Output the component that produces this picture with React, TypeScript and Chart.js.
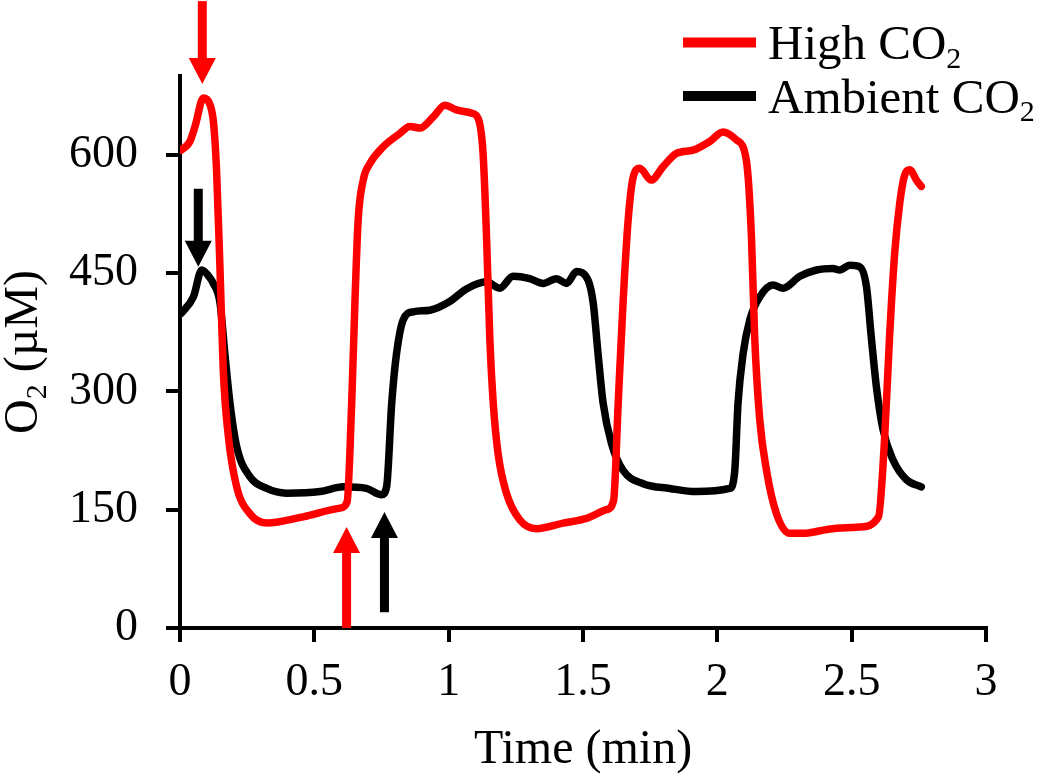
import { useEffect, useRef } from "react";
import { Chart, registerables } from "chart.js";

Chart.register(...registerables);

// O2 traces (time in min, O2 in µM)
const highTime = [
  0.005, 0.037, 0.056, 0.087, 0.11, 0.125, 0.136, 0.149, 0.161, 0.18, 0.211, 0.26, 0.323, 0.458, 0.595,
  0.622, 0.639, 0.651, 0.663, 0.682, 0.707, 0.756, 0.818, 0.856, 0.893, 0.942, 0.986, 1.029, 1.085, 1.11,
  1.128, 1.141, 1.153, 1.166, 1.184, 1.215, 1.265, 1.327, 1.426, 1.513, 1.587, 1.614, 1.631, 1.649, 1.668,
  1.687, 1.711, 1.754, 1.798, 1.848, 1.91, 1.972, 2.021, 2.071, 2.108, 2.127, 2.139, 2.158, 2.183, 2.22,
  2.269, 2.319, 2.43, 2.53, 2.6, 2.623, 2.641, 2.66, 2.679, 2.698, 2.716, 2.741, 2.759,
];
const highO2 = [
  606, 617, 636, 672, 665, 640, 581, 454, 327, 243, 179, 145, 133, 141, 152,
  160, 285, 412, 517, 568, 589, 610, 627, 636, 634, 648, 663, 657, 653, 646,
  602, 496, 369, 285, 221, 171, 137, 126, 133, 139, 150, 162, 285, 412, 517,
  572, 583, 568, 585, 602, 606, 617, 629, 619, 593, 496, 369, 264, 200, 145,
  120, 120, 126, 128, 141, 243, 369, 475, 539, 575, 581, 568, 560,
];
const ambientTime = [
  0.005, 0.05, 0.081, 0.105, 0.124, 0.149, 0.167, 0.186, 0.211, 0.26, 0.323, 0.397, 0.521, 0.608, 0.694,
  0.75, 0.769, 0.788, 0.806, 0.831, 0.868, 0.93, 1.004, 1.066, 1.141, 1.19, 1.24, 1.302, 1.352, 1.401,
  1.439, 1.476, 1.519, 1.538, 1.556, 1.575, 1.606, 1.649, 1.724, 1.823, 1.922, 2.046, 2.065, 2.077, 2.096,
  2.121, 2.158, 2.207, 2.245, 2.307, 2.369, 2.43, 2.455, 2.493, 2.53, 2.555, 2.573, 2.592, 2.617, 2.654,
  2.704, 2.759,
];
const ambientO2 = [
  399, 420, 454, 447, 437, 412, 348, 285, 230, 192, 177, 171, 173, 179, 177,
  169, 179, 285, 348, 391, 401, 403, 414, 430, 439, 431, 446, 443, 437, 443,
  437, 452, 441, 412, 348, 285, 234, 200, 183, 177, 173, 177, 200, 285, 348,
  391, 420, 435, 431, 446, 454, 456, 454, 460, 458, 433, 369, 306, 251, 213,
  188, 179,
];

const seriesLabels = ["High CO₂", "Ambient CO₂"];
const seriesColors = ["#ff0000", "#000000"];
const xTickStep = 0.5;
const yTickValues = [0, 150, 300, 450, 600];

// arrows marking the switches (time, tail and tip in µM)
const arrowTime = [0.083, 0.068, 0.62, 0.761];
const arrowFrom = [795, 557, 0, 20];
const arrowTo = [690, 458, 128, 147];
const arrowColor = ["#ff0000", "#000000", "#ff0000", "#000000"];

const SERIF = "'Liberation Serif', 'Times New Roman', serif";

// writes text with "₂" drawn as a real lowered subscript, returns width
function subText(ctx: CanvasRenderingContext2D, text: string, x: number, y: number, size: number, draw = true) {
  let cx = x;
  for (const part of text.split(/(₂)/)) {
    if (!part) continue;
    const isSub = part === "₂";
    ctx.font = `${isSub ? Math.round(size * 0.62) : size}px ${SERIF}`;
    const s = isSub ? "2" : part;
    if (draw) ctx.fillText(s, cx, isSub ? y + size * 0.18 : y);
    cx += ctx.measureText(s).width;
  }
  return cx - x;
}

const arrowPlugin = {
  id: "arrows",
  afterDatasetsDraw(chart: any) {
    const { ctx, scales } = chart;
    arrowTime.forEach((t, i) => {
      const px = scales.x.getPixelForValue(t);
      const y0 = scales.y.getPixelForValue(arrowFrom[i]);
      const y1 = scales.y.getPixelForValue(arrowTo[i]);
      const dir = Math.sign(y1 - y0);
      const head = 26;
      ctx.save();
      ctx.strokeStyle = arrowColor[i];
      ctx.fillStyle = arrowColor[i];
      ctx.lineWidth = 9;
      ctx.beginPath();
      ctx.moveTo(px, y0);
      ctx.lineTo(px, y1 - dir * (head - 2));
      ctx.stroke();
      ctx.beginPath();
      ctx.moveTo(px, y1);
      ctx.lineTo(px - 13.5, y1 - dir * head);
      ctx.lineTo(px + 13.5, y1 - dir * head);
      ctx.closePath();
      ctx.fill();
      ctx.restore();
    });
  },
};

const textPlugin = {
  id: "texts",
  afterDraw(chart: any) {
    const { ctx, chartArea } = chart;
    ctx.save();
    ctx.textAlign = "left";
    ctx.textBaseline = "alphabetic";

    // legend
    chart.data.datasets.forEach((ds: any, i: number) => {
      const base = 59 + i * 53.5;
      ctx.strokeStyle = ds.borderColor;
      ctx.lineWidth = 10;
      ctx.beginPath();
      ctx.moveTo(683, base - 16.5);
      ctx.lineTo(756, base - 16.5);
      ctx.stroke();
      ctx.fillStyle = "#000";
      subText(ctx, ds.label, 768, base, 49);
    });

    // y axis title
    const label = "O₂ (µM)";
    const w = subText(ctx, label, 0, 0, 48, false);
    ctx.translate(37, (chartArea.top + chartArea.bottom) / 2);
    ctx.rotate(-Math.PI / 2);
    ctx.fillStyle = "#000";
    subText(ctx, label, -w / 2, 0, 48);
    ctx.restore();
  },
};

function App() {
  const canvasRef = useRef<HTMLCanvasElement | null>(null);

  useEffect(() => {
    document.body.style.margin = "0";
    document.body.style.overflow = "hidden";
    if (!canvasRef.current) return;

    const chart = new Chart(canvasRef.current, {
      type: "line",
      data: {
        datasets: [
          {
            label: seriesLabels[0],
            data: highTime.map((t, i) => ({ x: t, y: highO2[i] })),
            borderColor: seriesColors[0],
          },
          {
            label: seriesLabels[1],
            data: ambientTime.map((t, i) => ({ x: t, y: ambientO2[i] })),
            borderColor: seriesColors[1],
          },
        ],
      },
      options: {
        responsive: false,
        animation: false,
        layout: { padding: { top: 76, right: 60, left: 0, bottom: 0 } },
        elements: {
          point: { radius: 0 },
          line: {
            borderWidth: 7.5,
            cubicInterpolationMode: "monotone",
            borderCapStyle: "round",
            borderJoinStyle: "round",
          },
        },
        plugins: {
          legend: { display: false },
          tooltip: { enabled: false },
        },
        scales: {
          x: {
            type: "linear",
            min: 0,
            max: 3,
            ticks: {
              stepSize: xTickStep,
              color: "#000",
              padding: 13,
              maxRotation: 0,
              font: { family: SERIF, size: 46 },
              callback: (v: any) => String(v),
            },
            grid: { drawOnChartArea: false, color: "#000", lineWidth: 4, tickLength: 14 },
            border: { color: "#000", width: 4 },
            title: {
              display: true,
              text: "Time (min)",
              color: "#000",
              font: { family: SERIF, size: 48 },
              padding: { top: 0, bottom: 3 },
            },
            afterFit: (scale: any) => {
              scale.height = 154;
            },
          },
          y: {
            min: 0,
            max: 700,
            ticks: {
              color: "#000",
              padding: 28,
              font: { family: SERIF, size: 46 },
            },
            afterBuildTicks: (scale: any) => {
              scale.ticks = yTickValues.map((v) => ({ value: v }));
            },
            grid: { drawOnChartArea: false, color: "#000", lineWidth: 4, tickLength: 14 },
            border: { color: "#000", width: 4 },
            afterFit: (scale: any) => {
              scale.width = 180;
            },
          },
        },
      },
      plugins: [arrowPlugin, textPlugin],
    });

    return () => {
      chart.destroy();
    };
  }, []);

  return (
    <div style={{ width: 1046, height: 782 }}>
      <canvas ref={canvasRef} width={1046} height={782}></canvas>
    </div>
  );
}

export default App;
